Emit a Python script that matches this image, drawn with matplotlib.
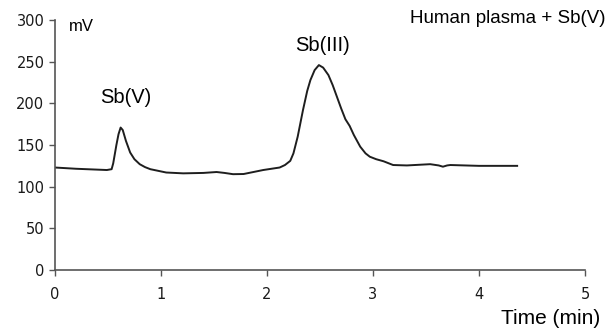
import numpy as np
import matplotlib.pyplot as plt

# chromatogram trace: time (min), signal (mV)
time_min = [0.0, 0.2, 0.49, 0.535, 0.55, 0.58, 0.60, 0.62, 0.64, 0.67, 0.71,
            0.75, 0.80, 0.85, 0.90, 1.05, 1.21, 1.40, 1.525, 1.60, 1.68, 1.78,
            1.965, 2.12, 2.17, 2.22, 2.25, 2.29, 2.34, 2.38, 2.41, 2.45, 2.49,
            2.53, 2.58, 2.62, 2.66, 2.70, 2.74, 2.78, 2.82, 2.88, 2.93, 2.97,
            3.03, 3.10, 3.19, 3.32, 3.54, 3.62, 3.66, 3.70, 3.73, 4.0, 4.36]
signal_mv = [123, 121.5, 120, 121, 128, 150, 163, 171, 168, 155, 141,
             133, 127, 123.5, 121, 117, 116, 116.5, 117.6, 116.5, 115, 115.2,
             120, 123, 126, 131, 140, 160, 192, 215, 228, 240, 246,
             243, 234, 222, 208, 194, 181, 173, 162, 148, 140, 136,
             133, 130.5, 126, 125.5, 127, 125.5, 124, 125.5, 126, 125, 125]

x_ticks = [0, 1, 2, 3, 4, 5]
y_ticks = [0, 50, 100, 150, 200, 250, 300]

plt.rcParams['font.family'] = ['Liberation Sans', 'DejaVu Sans']

fig = plt.figure(figsize=(6.1, 3.3), dpi=100)
ax = fig.add_axes([0.090, 0.182, 0.869, 0.757])

ax.plot(time_min, signal_mv, color="#1e1e1e", linewidth=1.4)

ax.set_xlim(0, 5)
ax.set_ylim(0, 300)
ax.set_xticks(x_ticks)
ax.set_yticks(y_ticks)
ax.tick_params(direction="out", length=4, width=1, colors="#555555",
               labelcolor="#1a1a1a", labelsize=10.5)
ax.tick_params(axis="x", pad=8)
for lbl in ax.get_xticklabels() + ax.get_yticklabels():
    lbl.set_family("DejaVu Sans")

for side in ["top", "right"]:
    ax.spines[side].set_visible(False)
for side in ["left", "bottom"]:
    ax.spines[side].set_color("#555555")
    ax.spines[side].set_linewidth(1.2)

ax.text(0.13, 292, "mV", fontsize=12, ha="left", va="center")
ax.text(0.67, 207, "Sb(V)", fontsize=14.5, ha="center", va="center")
ax.text(2.52, 270, "Sb(III)", fontsize=14.5, ha="center", va="center")
fig.text(0.992, 0.945, "Human plasma + Sb(V)", fontsize=13.5,
         ha="right", va="center")
fig.text(0.984, 0.036, "Time (min)", fontsize=15, ha="right", va="center")

fig.savefig("out.png", dpi=100)
